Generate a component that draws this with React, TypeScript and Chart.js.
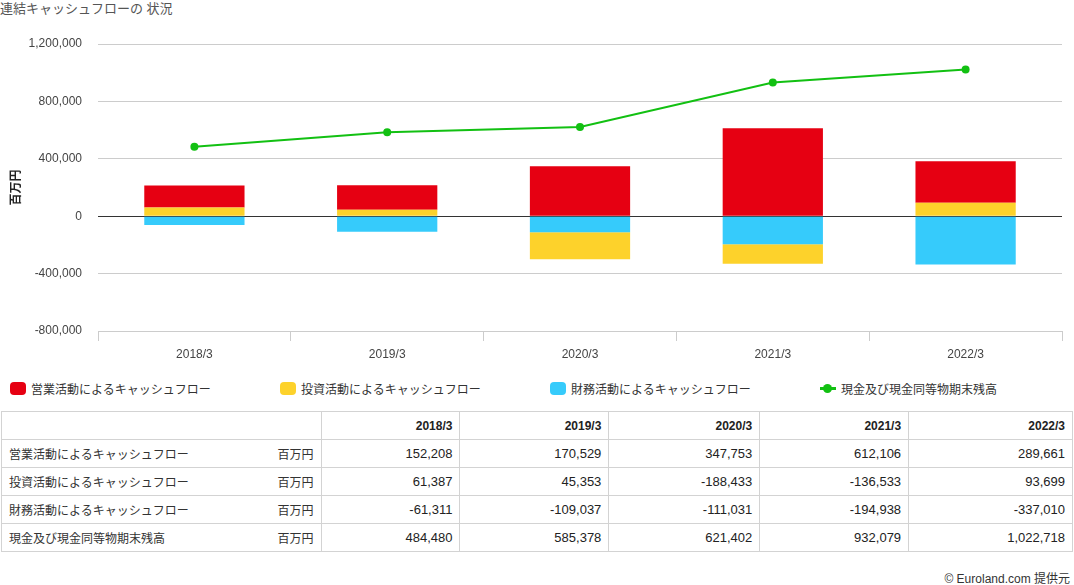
import React, { useRef, useEffect } from "react";
import { Chart, registerables } from "chart.js";

Chart.register(...registerables);

const FONT = "Arial, 'Liberation Sans', 'Noto Sans CJK JP', sans-serif";

const categories = ["2018/3", "2019/3", "2020/3", "2021/3", "2022/3"];
const operating = [152208, 170529, 347753, 612106, 289661];
const investing = [61387, 45353, -188433, -136533, 93699];
const financing = [-61311, -109037, -111031, -194938, -337010];
const cashEnd = [484480, 585378, 621402, 932079, 1022718];

const seriesNames = [
  "営業活動によるキャッシュフロー",
  "投資活動によるキャッシュフロー",
  "財務活動によるキャッシュフロー",
  "現金及び現金同等物期末残高",
];
const colors = ["#e60012", "#fdd22b", "#36cbfb", "#12c012"];
const unit = "百万円";

const fmt = (v: number) => v.toLocaleString("en-US");

const CashFlowChart: React.FC = () => {
  const canvasRef = useRef<HTMLCanvasElement | null>(null);
  const chartRef = useRef<Chart | null>(null);

  useEffect(() => {
    if (!canvasRef.current) return;

    chartRef.current = new Chart(canvasRef.current, {
      type: "bar",
      data: {
        labels: categories,
        datasets: [
          {
            type: "line",
            label: seriesNames[3],
            data: cashEnd,
            borderColor: colors[3],
            backgroundColor: colors[3],
            borderWidth: 2,
            pointRadius: 4,
            pointBorderWidth: 0,
            tension: 0,
            order: 0,
            stack: "cash",
          },
          {
            label: seriesNames[2],
            data: financing,
            backgroundColor: colors[2],
            stack: "cf",
            order: 1,
            barPercentage: 0.52,
            categoryPercentage: 1,
          },
          {
            label: seriesNames[1],
            data: investing,
            backgroundColor: colors[1],
            stack: "cf",
            order: 1,
            barPercentage: 0.52,
            categoryPercentage: 1,
          },
          {
            label: seriesNames[0],
            data: operating,
            backgroundColor: colors[0],
            stack: "cf",
            order: 1,
            barPercentage: 0.52,
            categoryPercentage: 1,
          },
        ] as any,
      },
      options: {
        animation: false,
        responsive: true,
        maintainAspectRatio: false,
        layout: { padding: { top: 24, right: 12, left: 0, bottom: 0 } },
        scales: {
          x: {
            stacked: true,
            grid: {
              display: true,
              drawOnChartArea: false,
              offset: true,
              tickLength: 10,
              color: "#cccccc",
            },
            border: { display: true, color: "#cccccc" },
            ticks: {
              color: "#444",
              font: { family: FONT, size: 12 },
              padding: 6,
            },
            afterFit: (scale: any) => {
              scale.height = 39;
            },
          },
          y: {
            stacked: true,
            min: -800000,
            max: 1200000,
            ticks: {
              stepSize: 400000,
              color: "#444",
              font: { family: FONT, size: 12 },
              padding: 16,
              callback: (v: any) => fmt(Number(v)),
            },
            grid: {
              drawTicks: false,
              color: (ctx: any) => (ctx.tick && ctx.tick.value === 0 ? "#333333" : "#cccccc"),
            },
            border: { display: false },
            title: {
              display: true,
              text: unit,
              color: "#222",
              font: { family: FONT, size: 12, weight: "bold" },
              padding: { top: 9, bottom: 0 },
            },
            afterFit: (scale: any) => {
              scale.width = 98;
            },
          },
        },
        plugins: {
          legend: { display: false },
          tooltip: { enabled: false },
        },
      },
    });

    return () => chartRef.current?.destroy();
  }, []);

  return <canvas ref={canvasRef} />;
};

const cell: React.CSSProperties = {
  border: "1px solid #d3d3d3",
  height: 27,
  padding: "0 7px",
  textAlign: "right",
  color: "#222",
};

const App: React.FC = () => {
  const rows = [operating, investing, financing, cashEnd];
  return (
    <div
      style={{
        position: "absolute",
        left: 0,
        top: 0,
        width: 1074,
        height: 585,
        background: "#fff",
        fontFamily: FONT,
        overflow: "hidden",
      }}
    >
      <div style={{ position: "absolute", left: 0, top: 0, fontSize: 13, color: "#555", lineHeight: "17px" }}>
        連結キャッシュフローの 状況
      </div>
      <div style={{ position: "absolute", left: 0, top: 20, width: 1074, height: 350 }}>
        <CashFlowChart />
      </div>
      <div style={{ position: "absolute", left: 0, top: 379, width: 1074, height: 18, fontSize: 12, color: "#333" }}>
        {seriesNames.map((name, i) => (
          <div
            key={name}
            style={{ position: "absolute", left: 10 + i * 270, top: 0, display: "flex", alignItems: "center", height: 18 }}
          >
            {i < 3 ? (
              <span
                style={{ display: "inline-block", width: 16, height: 13, borderRadius: 4, background: colors[i], marginRight: 5 }}
              />
            ) : (
              <span style={{ position: "relative", display: "inline-block", width: 16, height: 13, marginRight: 5 }}>
                <span style={{ position: "absolute", left: 0, top: 5, width: 16, height: 3, background: colors[3] }} />
                <span
                  style={{ position: "absolute", left: 3, top: 2, width: 9, height: 9, borderRadius: 5, background: colors[3] }}
                />
              </span>
            )}
            {name}
          </div>
        ))}
      </div>
      <table
        style={{
          position: "absolute",
          left: 1,
          top: 411,
          width: 1072,
          borderCollapse: "collapse",
          fontSize: 13,
          fontFamily: FONT,
        }}
      >
        <colgroup>
          <col style={{ width: 320 }} />
          <col style={{ width: 139 }} />
          <col style={{ width: 149 }} />
          <col style={{ width: 151 }} />
          <col style={{ width: 149 }} />
          <col style={{ width: 164 }} />
        </colgroup>
        <tbody>
          <tr>
            <td style={cell}></td>
            {categories.map((c) => (
              <td key={c} style={{ ...cell, fontWeight: "bold", fontSize: 12 }}>
                {c}
              </td>
            ))}
          </tr>
          {rows.map((r, i) => (
            <tr key={seriesNames[i]}>
              <td style={{ ...cell, textAlign: "left", color: "#333", fontSize: 12 }}>
                <div style={{ display: "flex", justifyContent: "space-between" }}>
                  <span>{seriesNames[i]}</span>
                  <span>{unit}</span>
                </div>
              </td>
              {r.map((v, j) => (
                <td key={j} style={cell}>
                  {fmt(v)}
                </td>
              ))}
            </tr>
          ))}
        </tbody>
      </table>
      <div style={{ position: "absolute", right: 4, top: 569, fontSize: 12, color: "#333" }}>© Euroland.com 提供元</div>
    </div>
  );
};

export default App;
